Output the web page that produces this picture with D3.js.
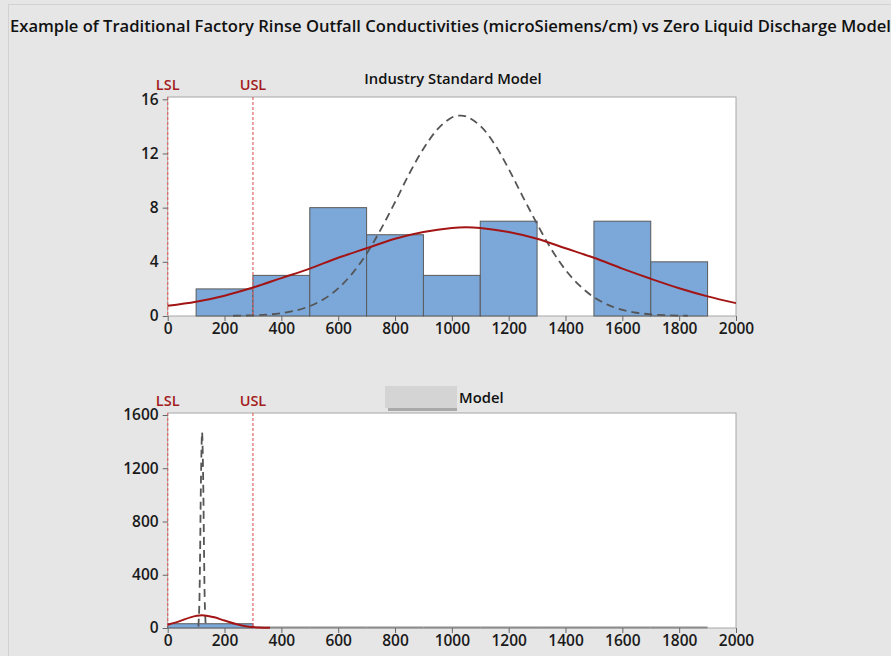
<!DOCTYPE html>
<html><head><meta charset="utf-8">
<script src="https://cdn.jsdelivr.net/npm/d3@7"></script>
<style>
html,body{margin:0;padding:0;background:#e6e6e6;}
svg{display:block;}
text{font-family:"Open Sans","Noto Sans",sans-serif;}
</style></head>
<body>
<svg id="chart" width="891" height="656"></svg>
<script>
// ---------------- data ----------------
const title = "Example of Traditional Factory Rinse Outfall Conductivities (microSiemens/cm) vs Zero Liquid Discharge Model";
const topTitle = "Industry Standard Model";
const bottomTitle = "Model";
const specLimits = [{label:"LSL", value:0},{label:"USL", value:300}];
const xTicks = [0,200,400,600,800,1000,1200,1400,1600,1800,2000];
const topYTicks = [0,4,8,12,16];
const bottomYTicks = [0,400,800,1200,1600];

// top histogram: bin start, bin end, count
const topBinStart = [100,300,500,700,900,1100,1500,1700];
const topBinEnd   = [300,500,700,900,1100,1300,1700,1900];
const topCounts   = [2,3,8,6,3,7,7,4];

// top overall fit (solid red)
const topOverallX = [0,100,200,300,400,500,600,700,800,900,1000,1050,1100,1200,1300,1400,1500,1600,1700,1800,1900,2000];
const topOverallY = [0.75,1.05,1.5,2.1,2.8,3.5,4.3,5.0,5.7,6.2,6.5,6.55,6.5,6.2,5.7,5.0,4.3,3.5,2.75,2.05,1.45,0.95];

// top within fit (dashed gray)
const topWithinX = [230,300,350,400,450,500,550,600,650,700,750,800,850,900,950,1000,1030,1050,1100,1150,1200,1250,1300,1350,1400,1450,1500,1550,1600,1650,1700,1750,1800,1830];
const topWithinY = [0.02,0.05,0.1,0.21,0.4,0.73,1.25,2.04,3.15,4.6,6.4,8.4,10.5,12.35,13.8,14.66,14.8,14.74,14.04,12.7,10.86,8.8,6.8,4.94,3.4,2.24,1.39,0.82,0.45,0.24,0.12,0.06,0.03,0.02];

// bottom histogram
const botBinStart = [0,300,500,700,900,1100,1300,1500,1700];
const botBinEnd   = [300,500,700,900,1100,1300,1500,1700,1900];
const botCounts   = [32,0,0,0,0,0,0,0,0];

// bottom overall fit (solid red)
const botOverallX = [0,40,80,120,160,200,240,280,320,360];
const botOverallY = [25,50,80,95,82,56,30,12,4,1];

// bottom within fit (dashed spike)
const botWithinX = [108,111,114,117,121,125,128,131,134];
const botWithinY = [10,150,550,1100,1470,1100,550,150,10];

// ---------------- drawing ----------------
const svg = d3.select("#chart");
const colBar = "#7ba7d9", colBarStroke = "#5a5a5a";
const colRed = "#a31515", colSpec = "#e06666", colSpecText = "#a31b1b";
const colDash = "#555555";

// outer frame
svg.append("rect").attr("x",8.5).attr("y",4.5).attr("width",900).attr("height",700)
  .attr("fill","#e6e6e6").attr("stroke","#d2d2d2");

svg.append("text").attr("x",10).attr("y",32).text(title)
  .attr("font-size",15.5).attr("font-weight",600).attr("fill","#111")
  .attr("textLength",881).attr("lengthAdjust","spacingAndGlyphs");

const x = d3.scaleLinear().domain([0,2000]).range([167.7,736]);

function panel(cfg){
  const y = d3.scaleLinear().domain([0,cfg.ymax]).range([cfg.bottom,cfg.top]);
  const g = svg.append("g");
  g.append("rect").attr("x",x(0)).attr("y",cfg.top).attr("width",x(2000)-x(0)).attr("height",cfg.bottom-cfg.top)
    .attr("fill","#fff").attr("stroke","#a6a6a6").attr("stroke-width",1);

  // bars
  const bars = cfg.binStart.map((s,i)=>({s, e:cfg.binEnd[i], c:cfg.counts[i]}));
  g.selectAll(".bar").data(bars.filter(d=>d.c>0)).enter().append("rect")
    .attr("x",d=>x(d.s)).attr("y",d=>y(d.c)).attr("width",d=>x(d.e)-x(d.s)).attr("height",d=>y(0)-y(d.c))
    .attr("fill",colBar).attr("stroke",colBarStroke).attr("stroke-width",1);
  const zeros = bars.filter(d=>d.c===0);
  if (cfg.zeroLine) {
    g.selectAll(".zbar").data(zeros).enter().append("line")
      .attr("x1",d=>x(d.s)).attr("x2",d=>x(d.e)).attr("y1",y(0)-0.5).attr("y2",y(0)-0.5)
      .attr("stroke","#8c8c8c").attr("stroke-width",2);
  }

  // spec lines
  specLimits.forEach(sp=>{
    g.append("line").attr("x1",x(sp.value)).attr("x2",x(sp.value)).attr("y1",cfg.top).attr("y2",cfg.bottom)
      .attr("stroke",colSpec).attr("stroke-width",1.2).attr("stroke-dasharray","3,2");
    g.append("text").attr("x",x(sp.value)).attr("y",cfg.top-7).attr("text-anchor","middle")
      .attr("font-size",14.5).attr("font-weight",600).attr("fill",colSpecText).text(sp.label);
  });

  const line = d3.line().x(d=>x(d[0])).y(d=>y(d[1])).curve(d3.curveCatmullRom);
  g.append("path").datum(cfg.wX.map((v,i)=>[v,cfg.wY[i]])).attr("d",line)
    .attr("fill","none").attr("stroke",colDash).attr("stroke-width",1.8).attr("stroke-dasharray","8,5");
  g.append("path").datum(cfg.oX.map((v,i)=>[v,cfg.oY[i]])).attr("d",line)
    .attr("fill","none").attr("stroke",colRed).attr("stroke-width",2);

  // axes
  const ya = g.append("g").attr("transform",`translate(${x(0)},0)`)
    .call(d3.axisLeft(y).tickValues(cfg.yTicks).tickSize(5).tickPadding(4).tickFormat(d3.format("d")));
  const xa = g.append("g").attr("transform",`translate(0,${cfg.bottom})`)
    .call(d3.axisBottom(x).tickValues(xTicks).tickSize(5).tickPadding(2).tickFormat(d3.format("d")));
  [ya,xa].forEach(a=>{
    a.select(".domain").remove();
    a.selectAll("line").attr("stroke","#666");
    a.selectAll("text").attr("font-size",15.5).attr("font-weight",600).attr("fill","#1a1a1a")
      .attr("font-family","'Open Sans','Noto Sans',sans-serif");
  });
  return g;
}

panel({top:97,bottom:316,ymax:16.17,yTicks:topYTicks,binStart:topBinStart,binEnd:topBinEnd,counts:topCounts,
  oX:topOverallX,oY:topOverallY,wX:topWithinX,wY:topWithinY,zeroLine:false});
svg.append("text").attr("x",453).attr("y",84).attr("text-anchor","middle").attr("font-size",14.8)
  .attr("font-weight",600).attr("fill","#111").text(topTitle);

panel({top:413,bottom:628,ymax:1615,yTicks:bottomYTicks,binStart:botBinStart,binEnd:botBinEnd,counts:botCounts,
  oX:botOverallX,oY:botOverallY,wX:botWithinX,wY:botWithinY,zeroLine:true});
svg.append("rect").attr("x",385).attr("y",386).attr("width",72).attr("height",22).attr("fill","#d4d4d4");
svg.append("rect").attr("x",388).attr("y",408).attr("width",69).attr("height",3).attr("fill","#a9a9a9");
svg.append("text").attr("x",459).attr("y",403).attr("font-size",14.8)
  .attr("font-weight",600).attr("fill","#111").text(bottomTitle);
</script>
</body></html>
